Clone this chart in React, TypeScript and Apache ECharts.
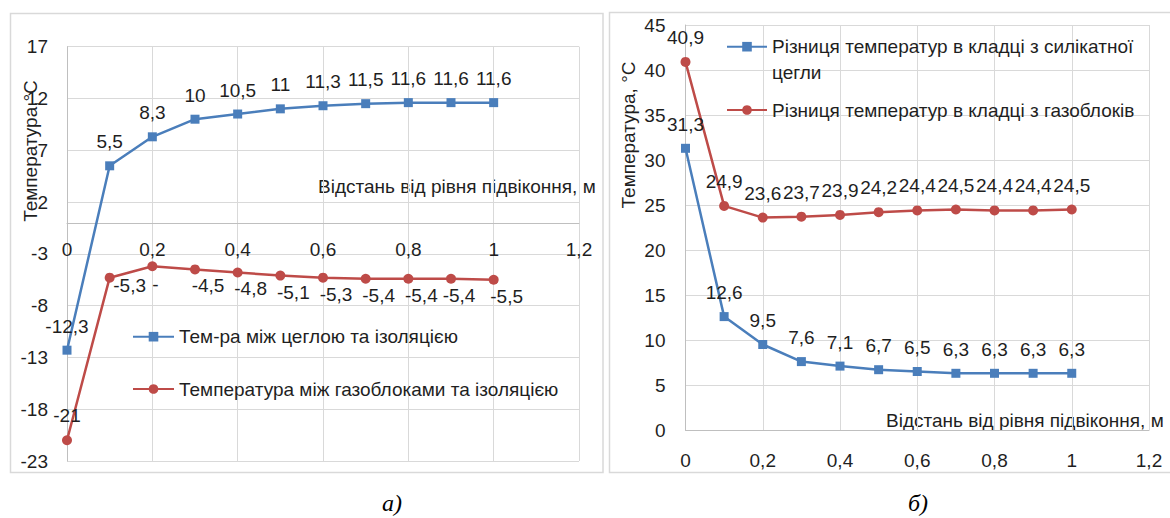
import React, { useEffect, useRef } from 'react';
import * as echarts from 'echarts';

// ---- data ----
const distances = [0, 0.1, 0.2, 0.3, 0.4, 0.5, 0.6, 0.7, 0.8, 0.9, 1];
const brickInsulation = [-12.3, 5.5, 8.3, 10, 10.5, 11, 11.3, 11.5, 11.6, 11.6, 11.6];
const gasblockInsulation = [-21, -5.3, -4.2, -4.5, -4.8, -5.1, -5.3, -5.4, -5.4, -5.4, -5.5];
const silicateDiff = [31.3, 12.6, 9.5, 7.6, 7.1, 6.7, 6.5, 6.3, 6.3, 6.3, 6.3];
const gasblockDiff = [40.9, 24.9, 23.6, 23.7, 23.9, 24.2, 24.4, 24.5, 24.4, 24.4, 24.5];

const leftYRange = [-23, 17];
const rightYRange = [0, 45];
const xRange = [0, 1.2];

const nameBrick = 'Тем-ра між цеглою та ізоляцією';
const nameGas = 'Температура між газоблоками та ізоляцією';
const nameSilDiff = 'Різниця температур в кладці з силікатної цегли';
const nameGasDiff = 'Різниця температур в кладці з газоблоків';

const xTitle = 'Відстань від рівня підвіконня, м';
const yTitleLeft = 'Температура,°С';
const yTitleRight = 'Температура, °С';
const captionLeft = 'а)';
const captionRight = 'б)';

// ---- styles ----
const FONT = '"Liberation Sans", Arial, sans-serif';
const TXT = '#1f1f1f';
const GRID = '#d9d9d9';
const AXIS = '#bfbfbf';
const BLUE = '#4a7ebb';
const RED = '#be4b48';
const FS = 19;

const fmt = (v: number) => String(Math.round(v * 10) / 10).replace('.', ',');
const pairs = (ys: number[]) => distances.map((x, i) => [x, ys[i]]);

const LEFT_GRID = { left: 67, top: 46.7, width: 512, height: 414.3 };
const RIGHT_GRID = { left: 685.5, top: 25, width: 463.5, height: 405 };

export default function App() {
  const ref = useRef<HTMLDivElement>(null);
  useEffect(() => {
    if (!ref.current) return;
    const chart = echarts.init(ref.current, undefined, { renderer: 'svg' });

    // the x axis crosses the y axis at value 0: shift it up from the grid bottom
    const zeroOffset = (range: number[], height: number) =>
      -((0 - range[0]) / (range[1] - range[0])) * height;

    const xAxisBase = (grid: number, margin: number, offset: number) => ({
      gridIndex: grid,
      type: 'value',
      position: 'bottom',
      offset,
      min: xRange[0],
      max: xRange[1],
      interval: 0.2,
      axisLine: { show: true, onZero: false, lineStyle: { color: AXIS, width: 1 } },
      axisTick: { show: false },
      axisLabel: { formatter: fmt, fontSize: FS, color: TXT, margin, fontFamily: FONT },
      splitLine: { show: true, lineStyle: { color: GRID, width: 1 } },
    });
    const yAxisBase = (grid: number, range: number[], margin: number) => ({
      gridIndex: grid,
      type: 'value',
      min: range[0],
      max: range[1],
      interval: 5,
      axisLine: { show: true, onZero: false, lineStyle: { color: AXIS, width: 1 } },
      axisTick: { show: false },
      axisLabel: { formatter: fmt, fontSize: FS, color: TXT, margin, fontFamily: FONT },
      splitLine: { show: true, lineStyle: { color: GRID, width: 1 } },
    });

    const labelBase = {
      show: true,
      fontSize: FS,
      color: TXT,
      fontFamily: FONT,
      formatter: (p: any) => fmt(p.value[1]),
    };

    const redLeftData = pairs(gasblockInsulation).map((v, i) => {
      if (i === 0) return { value: v, label: { position: 'top', distance: 10, offset: [0, 0] } };
      if (i === 1) return { value: v, label: { offset: [20, -9] } };
      if (i === 2) return { value: v, label: { formatter: '-', offset: [3, 2] } };
      if (i === 9) return { value: v, label: { offset: [8, 0] } };
      return { value: v };
    });

    const option: any = {
      animation: false,
      textStyle: { fontFamily: FONT },
      grid: [LEFT_GRID, RIGHT_GRID],
      xAxis: [
        xAxisBase(0, 17, zeroOffset(leftYRange, LEFT_GRID.height)),
        xAxisBase(1, 21, zeroOffset(rightYRange, RIGHT_GRID.height)),
      ],
      yAxis: [yAxisBase(0, leftYRange, 19), yAxisBase(1, rightYRange, 20)],
      legend: [
        {
          data: [nameBrick, nameGas],
          orient: 'vertical',
          left: 132,
          top: 325.7,
          itemWidth: 41,
          itemHeight: 12,
          itemGap: 30.3,
          padding: 0,
          textStyle: { fontSize: FS, color: TXT, lineHeight: 22, fontFamily: FONT },
        },
        {
          data: [nameSilDiff],
          orient: 'vertical',
          left: 726,
          top: 7.7,
          itemWidth: 40,
          itemHeight: 12,
          padding: 0,
          formatter: () => ' \nРізниця температур в кладці з силікатної\nцегли',
          textStyle: { fontSize: FS, color: TXT, lineHeight: 26, fontFamily: FONT },
        },
        {
          data: [nameGasDiff],
          orient: 'vertical',
          left: 726,
          top: 97,
          itemWidth: 40,
          itemHeight: 12,
          padding: 0,
          textStyle: { fontSize: FS, color: TXT, lineHeight: 26, fontFamily: FONT },
        },
      ],
      series: [
        {
          name: nameBrick,
          type: 'line',
          xAxisIndex: 0,
          yAxisIndex: 0,
          data: pairs(brickInsulation),
          symbol: 'rect',
          symbolSize: 9,
          lineStyle: { color: BLUE, width: 2.5 },
          itemStyle: { color: BLUE },
          label: { ...labelBase, position: 'top', distance: 10 },
        },
        {
          name: nameGas,
          type: 'line',
          xAxisIndex: 0,
          yAxisIndex: 0,
          data: redLeftData,
          symbol: 'circle',
          symbolSize: 10,
          lineStyle: { color: RED, width: 2.5 },
          itemStyle: { color: RED },
          label: { ...labelBase, position: 'bottom', distance: 2, offset: [13, 0] },
        },
        {
          name: nameSilDiff,
          type: 'line',
          xAxisIndex: 1,
          yAxisIndex: 1,
          data: pairs(silicateDiff),
          symbol: 'rect',
          symbolSize: 9,
          lineStyle: { color: BLUE, width: 2.5 },
          itemStyle: { color: BLUE },
          label: { ...labelBase, position: 'top', distance: 10 },
        },
        {
          name: nameGasDiff,
          type: 'line',
          xAxisIndex: 1,
          yAxisIndex: 1,
          data: pairs(gasblockDiff),
          symbol: 'circle',
          symbolSize: 10,
          lineStyle: { color: RED, width: 2.5 },
          itemStyle: { color: RED },
          label: { ...labelBase, position: 'top', distance: 10 },
        },
      ],
      graphic: [
        {
          type: 'rect',
          shape: { x: 10.5, y: 13.5, width: 592.5, height: 459 },
          style: { fill: 'none', stroke: GRID, lineWidth: 1.5 },
          silent: true,
        },
        {
          type: 'rect',
          shape: { x: 609.5, y: 12.5, width: 580, height: 460 },
          style: { fill: 'none', stroke: GRID, lineWidth: 1.5 },
          silent: true,
        },
        {
          type: 'text',
          x: 30,
          y: 151,
          rotation: Math.PI / 2,
          style: { text: yTitleLeft, fill: TXT, font: `${FS}px ${FONT}`, textAlign: 'center', textVerticalAlign: 'middle' },
        },
        {
          type: 'text',
          x: 628,
          y: 135,
          rotation: Math.PI / 2,
          style: { text: yTitleRight, fill: TXT, font: `${FS}px ${FONT}`, textAlign: 'center', textVerticalAlign: 'middle' },
        },
        {
          type: 'text',
          x: 318,
          y: 186,
          style: { text: xTitle, fill: TXT, font: `${FS}px ${FONT}`, textAlign: 'left', textVerticalAlign: 'middle' },
        },
        {
          type: 'text',
          x: 886,
          y: 420,
          style: { text: xTitle, fill: TXT, font: `${FS}px ${FONT}`, textAlign: 'left', textVerticalAlign: 'middle' },
        },
        {
          type: 'text',
          x: 392,
          y: 503,
          style: { text: captionLeft, fill: '#000', font: `italic 24px "Liberation Serif", "Times New Roman", serif`, textAlign: 'center', textVerticalAlign: 'middle' },
        },
        {
          type: 'text',
          x: 918,
          y: 503,
          style: { text: captionRight, fill: '#000', font: `italic 24px "Liberation Serif", "Times New Roman", serif`, textAlign: 'center', textVerticalAlign: 'middle' },
        },
      ],
    };

    chart.setOption(option);
    return () => chart.dispose();
  }, []);

  return (
    <div
      ref={ref}
      style={{ position: 'absolute', left: 0, top: 0, width: 1170, height: 518, background: '#fff' }}
    />
  );
}
